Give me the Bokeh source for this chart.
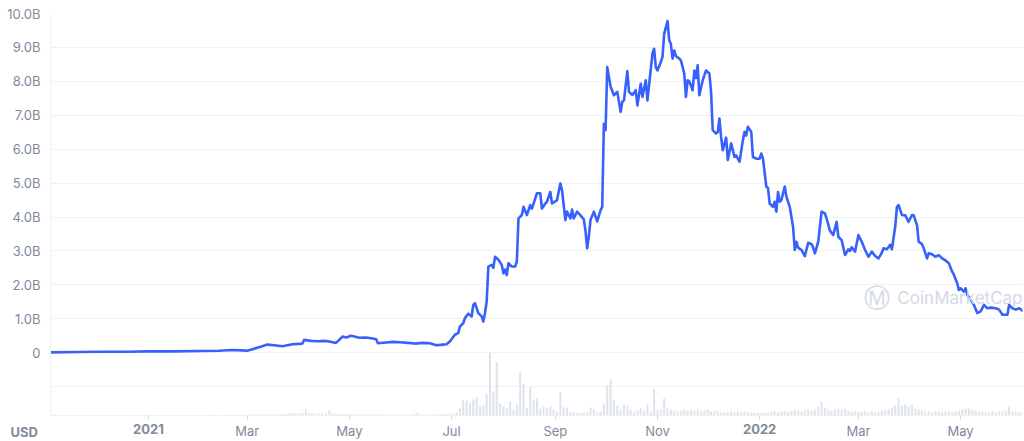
import pandas as pd
from bokeh.plotting import figure
from bokeh.models import Range1d, FixedTicker, Label, ColumnDataSource, LinearAxis, Title
from bokeh.embed import file_html
from bokeh.resources import INLINE

# ---- market cap (billions USD) ----
mcap_2020_h1_2021 = [
    ("2020-11-03", 0.01), ("2020-11-20", 0.02), ("2020-12-03", 0.03), ("2020-12-20", 0.03),
    ("2021-01-01", 0.04), ("2021-01-15", 0.04), ("2021-02-01", 0.05), ("2021-02-12", 0.06),
    ("2021-02-20", 0.08), ("2021-02-26", 0.07), ("2021-03-01", 0.06), ("2021-03-05", 0.12),
    ("2021-03-09", 0.18), ("2021-03-13", 0.24), ("2021-03-17", 0.22), ("2021-03-22", 0.19),
    ("2021-03-25", 0.22), ("2021-03-28", 0.25), ("2021-04-01", 0.26), ("2021-04-03", 0.27),
    ("2021-04-04", 0.38), ("2021-04-08", 0.35), ("2021-04-12", 0.34), ("2021-04-16", 0.35),
    ("2021-04-19", 0.33), ("2021-04-23", 0.29), ("2021-04-27", 0.48), ("2021-04-29", 0.45),
    ("2021-05-02", 0.50), ("2021-05-07", 0.44), ("2021-05-11", 0.45), ("2021-05-15", 0.42),
    ("2021-05-17", 0.40), ("2021-05-18", 0.28), ("2021-05-23", 0.30), ("2021-05-27", 0.32),
    ("2021-05-31", 0.31), ("2021-06-05", 0.29), ("2021-06-09", 0.27), ("2021-06-14", 0.29),
    ("2021-06-18", 0.28), ("2021-06-22", 0.22), ("2021-06-26", 0.24), ("2021-06-28", 0.25),
]
mcap_q3_2021 = [
    ("2021-06-30", 0.33), ("2021-07-03", 0.53), ("2021-07-05", 0.58), ("2021-07-06", 0.77),
    ("2021-07-08", 0.87), ("2021-07-09", 1.02), ("2021-07-11", 1.15), ("2021-07-13", 1.07),
    ("2021-07-14", 1.41), ("2021-07-15", 1.46), ("2021-07-17", 1.17), ("2021-07-19", 1.07),
    ("2021-07-20", 0.92), ("2021-07-21", 1.17), ("2021-07-22", 1.51), ("2021-07-23", 2.54),
    ("2021-07-25", 2.59), ("2021-07-26", 2.50), ("2021-07-27", 2.83), ("2021-07-29", 2.74),
    ("2021-07-31", 2.59), ("2021-08-01", 2.34), ("2021-08-02", 2.45), ("2021-08-03", 2.29),
    ("2021-08-04", 2.64), ("2021-08-06", 2.54), ("2021-08-08", 2.54), ("2021-08-09", 2.69),
    ("2021-08-10", 3.96), ("2021-08-12", 4.06), ("2021-08-13", 4.30), ("2021-08-15", 4.06),
    ("2021-08-17", 4.35), ("2021-08-18", 4.25), ("2021-08-21", 4.70), ("2021-08-23", 4.70),
    ("2021-08-24", 4.25), ("2021-08-26", 4.40), ("2021-08-27", 4.45), ("2021-08-29", 4.74),
    ("2021-08-30", 4.40), ("2021-09-02", 4.50), ("2021-09-04", 4.99), ("2021-09-05", 4.79),
    ("2021-09-07", 3.91), ("2021-09-08", 4.16), ("2021-09-10", 3.96), ("2021-09-11", 4.22),
    ("2021-09-12", 3.96), ("2021-09-14", 4.16), ("2021-09-16", 4.05), ("2021-09-18", 3.93),
    ("2021-09-19", 3.60), ("2021-09-20", 3.08), ("2021-09-21", 3.42), ("2021-09-22", 3.91),
    ("2021-09-24", 4.16), ("2021-09-26", 3.87), ("2021-09-28", 4.20), ("2021-09-29", 4.30),
]
mcap_q4_2021 = [
    ("2021-09-30", 6.75), ("2021-10-01", 6.56), ("2021-10-02", 8.42), ("2021-10-04", 7.84),
    ("2021-10-06", 7.59), ("2021-10-08", 7.69), ("2021-10-10", 7.10), ("2021-10-11", 7.40),
    ("2021-10-12", 7.44), ("2021-10-14", 8.30), ("2021-10-15", 7.69), ("2021-10-17", 7.60),
    ("2021-10-19", 7.74), ("2021-10-20", 7.29), ("2021-10-22", 7.93), ("2021-10-23", 7.54),
    ("2021-10-25", 8.03), ("2021-10-26", 7.44), ("2021-10-29", 8.82), ("2021-10-30", 8.96),
    ("2021-10-31", 8.42), ("2021-11-01", 8.32), ("2021-11-03", 8.57), ("2021-11-04", 8.72),
    ("2021-11-05", 9.40), ("2021-11-07", 9.78), ("2021-11-08", 9.21), ("2021-11-09", 9.10),
    ("2021-11-10", 8.67), ("2021-11-11", 8.91), ("2021-11-12", 8.75), ("2021-11-14", 8.67),
    ("2021-11-15", 8.62), ("2021-11-17", 8.23), ("2021-11-18", 7.54), ("2021-11-19", 8.03),
    ("2021-11-20", 8.00), ("2021-11-22", 7.74), ("2021-11-23", 8.32), ("2021-11-24", 8.10),
    ("2021-11-25", 8.47), ("2021-11-26", 7.59), ("2021-11-28", 8.03), ("2021-11-30", 8.32),
    ("2021-12-02", 8.23), ("2021-12-03", 7.70), ("2021-12-04", 6.56), ("2021-12-06", 6.46),
    ("2021-12-07", 6.50), ("2021-12-08", 6.90), ("2021-12-09", 6.36), ("2021-12-10", 5.97),
    ("2021-12-12", 6.34), ("2021-12-13", 5.68), ("2021-12-15", 6.17), ("2021-12-17", 5.77),
    ("2021-12-18", 5.82), ("2021-12-20", 5.63), ("2021-12-22", 6.26), ("2021-12-23", 6.51),
    ("2021-12-24", 6.40), ("2021-12-25", 6.66), ("2021-12-27", 6.51), ("2021-12-28", 5.77),
    ("2021-12-30", 5.72),
]
mcap_2022 = [
    ("2022-01-01", 5.72), ("2022-01-02", 5.87), ("2022-01-03", 5.72), ("2022-01-05", 4.90),
    ("2022-01-06", 4.85), ("2022-01-07", 4.40), ("2022-01-09", 4.30), ("2022-01-10", 4.45),
    ("2022-01-11", 4.16), ("2022-01-12", 4.74), ("2022-01-13", 4.45), ("2022-01-14", 4.50),
    ("2022-01-16", 4.90), ("2022-01-17", 4.60), ("2022-01-19", 4.30), ("2022-01-21", 3.70),
    ("2022-01-22", 3.03), ("2022-01-23", 3.27), ("2022-01-24", 3.10), ("2022-01-26", 3.03),
    ("2022-01-28", 2.85), ("2022-01-30", 3.24), ("2022-02-01", 3.20), ("2022-02-02", 3.10),
    ("2022-02-03", 2.93), ("2022-02-05", 3.27), ("2022-02-07", 4.16), ("2022-02-09", 4.11),
    ("2022-02-10", 3.95), ("2022-02-12", 3.60), ("2022-02-14", 3.47), ("2022-02-16", 3.86),
    ("2022-02-17", 3.42), ("2022-02-19", 3.32), ("2022-02-21", 2.88), ("2022-02-23", 3.05),
    ("2022-02-24", 3.00), ("2022-02-25", 3.11), ("2022-02-27", 2.98), ("2022-03-01", 3.47),
    ("2022-03-03", 3.27), ("2022-03-05", 3.03), ("2022-03-07", 2.83), ("2022-03-09", 2.98),
    ("2022-03-11", 2.85), ("2022-03-13", 2.78), ("2022-03-15", 2.95), ("2022-03-16", 3.08),
    ("2022-03-18", 3.05), ("2022-03-20", 3.18), ("2022-03-21", 3.05), ("2022-03-23", 3.72),
    ("2022-03-24", 4.30), ("2022-03-25", 4.35), ("2022-03-27", 4.06), ("2022-03-29", 4.05),
    ("2022-03-31", 3.86), ("2022-04-02", 4.06), ("2022-04-03", 4.05), ("2022-04-05", 3.76),
    ("2022-04-06", 3.27), ("2022-04-08", 3.20), ("2022-04-09", 3.08), ("2022-04-11", 2.78),
    ("2022-04-12", 2.93), ("2022-04-14", 2.90), ("2022-04-16", 2.83), ("2022-04-18", 2.88),
    ("2022-04-20", 2.78), ("2022-04-22", 2.72), ("2022-04-24", 2.64), ("2022-04-26", 2.39),
    ("2022-04-27", 2.30), ("2022-04-29", 2.05), ("2022-04-30", 1.85), ("2022-05-01", 1.90),
    ("2022-05-03", 1.80), ("2022-05-04", 1.90), ("2022-05-05", 1.71), ("2022-05-07", 1.56),
    ("2022-05-09", 1.41), ("2022-05-11", 1.17), ("2022-05-13", 1.22), ("2022-05-15", 1.41),
    ("2022-05-17", 1.31), ("2022-05-19", 1.33), ("2022-05-22", 1.31), ("2022-05-24", 1.27),
    ("2022-05-26", 1.12), ("2022-05-29", 1.12), ("2022-05-30", 1.41), ("2022-06-01", 1.31),
    ("2022-06-03", 1.27), ("2022-06-05", 1.31), ("2022-06-07", 1.24),
]

# ---- volume (billions USD), one value every 2 days from each segment start ----
vol_step_days = 2
vol_a_start = "2020-11-04"
vol_a = [
    0.01, 0.02, 0.02, 0.01, 0.02, 0.02, 0.03, 0.02, 0.02, 0.02,
    0.02, 0.03, 0.02, 0.02, 0.02, 0.03, 0.02, 0.02, 0.03, 0.02,
    0.02, 0.03, 0.02, 0.02, 0.03, 0.02, 0.03, 0.02, 0.02, 0.03,
    0.03, 0.02, 0.03, 0.03, 0.02, 0.03, 0.03, 0.02, 0.03, 0.03,
    0.03, 0.02, 0.03, 0.03, 0.03, 0.02, 0.03, 0.03, 0.03, 0.04,
    0.03, 0.03, 0.04, 0.03, 0.03, 0.04, 0.03, 0.04,
    0.03, 0.05, 0.04, 0.06, 0.05, 0.07, 0.06, 0.05, 0.06, 0.05,
    0.06, 0.08, 0.07, 0.10, 0.14, 0.08, 0.10, 0.12, 0.30, 0.12,
    0.10, 0.08, 0.10, 0.09, 0.12, 0.25, 0.12, 0.08, 0.07, 0.08,
    0.06, 0.07, 0.06, 0.05, 0.06, 0.05, 0.06, 0.05, 0.04, 0.05,
    0.06, 0.05, 0.04, 0.05, 0.04, 0.05, 0.04, 0.04, 0.05, 0.04,
    0.05, 0.14, 0.05, 0.04, 0.05, 0.04, 0.04, 0.05, 0.05, 0.06,
    0.07,
]
vol_b_start = "2021-06-30"
vol_b = [
    0.08, 0.10, 0.15, 0.35, 0.75, 0.75, 0.60, 0.80, 0.90, 0.45,
    0.50, 1.10, 3.10, 1.20, 2.65, 0.60, 0.45, 0.35, 0.70, 0.30,
    0.55, 2.15, 1.55, 0.40, 1.40, 0.80, 0.85, 0.35, 0.45, 0.35,
    0.45, 0.30, 0.20, 1.20, 0.40, 0.40, 0.20, 0.15, 0.15, 0.12,
    0.15, 0.20, 0.40, 0.30, 0.15, 0.20, 0.60, 1.50, 1.80, 0.80,
    0.50, 0.30, 0.55, 0.45, 0.30, 0.15, 0.25, 0.35, 0.25, 0.55,
    0.20, 1.30, 0.30, 0.30, 0.85, 0.40, 0.30,
]
vol_c_start = "2021-11-11"
vol_c = [
    0.25, 0.20, 0.25, 0.30, 0.25, 0.30, 0.25, 0.30, 0.20, 0.25,
    0.30, 0.20, 0.25, 0.20, 0.15, 0.15, 0.15, 0.20, 0.15, 0.20,
    0.15, 0.20, 0.15, 0.15, 0.15, 0.12, 0.12, 0.15, 0.15, 0.20,
    0.20, 0.15, 0.20, 0.20, 0.20, 0.25, 0.30, 0.25, 0.20, 0.25,
    0.30, 0.25, 0.30, 0.45, 0.70, 0.40, 0.30, 0.25, 0.30, 0.35,
    0.30, 0.35, 0.25, 0.20, 0.20, 0.20, 0.15, 0.20, 0.15, 0.20,
    0.15, 0.20, 0.25, 0.30, 0.30, 0.40, 0.50, 0.85, 0.50, 0.55,
    0.45, 0.55, 0.35, 0.30, 0.25, 0.20, 0.20, 0.15, 0.20, 0.20,
    0.15, 0.20, 0.20, 0.15, 0.20, 0.25, 0.30, 0.35, 0.35, 0.30,
    0.25, 0.20, 0.20, 0.15, 0.15, 0.20, 0.15, 0.20, 0.20, 0.25,
    0.45, 0.20, 0.20, 0.15, 0.20,
]

# ---- axis ticks ----
x_tick_dates = ["2021-01-01", "2021-03-01", "2021-05-01", "2021-07-01", "2021-09-01",
                "2021-11-01", "2022-01-01", "2022-03-01", "2022-05-01"]
x_tick_labels = ["2021", "Mar", "May", "Jul", "Sep", "Nov", "2022", "Mar", "May"]
y_ticks = [-1, 0, 1, 2, 3, 4, 5, 6, 7, 8, 9, 10]
y_tick_labels = ["", "0", "1.0B", "2.0B", "3.0B", "4.0B", "5.0B", "6.0B", "7.0B", "8.0B", "9.0B", "10.0B"]
currency = "USD"

# ---- build sources ----
mcap = mcap_2020_h1_2021 + mcap_q3_2021 + mcap_q4_2021 + mcap_2022
line_src = ColumnDataSource(dict(
    date=pd.to_datetime([d for d, _ in mcap]),
    value=[v for _, v in mcap],
))

def seg(start, vals):
    return list(pd.date_range(start, periods=len(vals), freq=f"{vol_step_days}D"))

vol_dates = seg(vol_a_start, vol_a) + seg(vol_b_start, vol_b) + seg(vol_c_start, vol_c)
vol_vals = vol_a + vol_b + vol_c
vol_src = ColumnDataSource(dict(date=vol_dates, value=vol_vals))

FONT = "Inter"
TXT = "#808a9d"
GRID = "#eff2f5"

p = figure(
    width=1024, height=441, x_axis_type="datetime",
    x_range=Range1d(pd.Timestamp("2020-11-03 12:00"), pd.Timestamp("2022-06-07")),
    y_range=Range1d(-1.85, 10.0),
    output_backend="svg", toolbar_location=None,
    min_border_top=13, min_border_right=2, min_border_left=50, min_border_bottom=20,
)
p.outline_line_color = None
p.background_fill_color = "white"
p.border_fill_color = "white"

p.extra_y_ranges = {"vol": Range1d(0, 20.0)}

p.vbar(x="date", top="value", bottom=0, width=1.2 * 86400000, source=vol_src,
       y_range_name="vol", fill_color="#dfe3ec", line_color=None)
p.line(x="date", y="value", source=line_src, line_color="#3861fb", line_width=2.6,
       line_join="round", line_cap="round")

# y axis
ya = p.yaxis[0]
ya.ticker = FixedTicker(ticks=y_ticks)
ya.major_label_overrides = {t: l for t, l in zip(y_ticks, y_tick_labels)}
ya.major_tick_line_color = None
ya.major_tick_out = 0
ya.minor_tick_line_color = None
ya.axis_line_color = GRID
ya.major_label_text_font = FONT
ya.major_label_text_font_size = "13px"
ya.major_label_text_color = TXT
ya.major_label_standoff = 10
ya.axis_label = None

p.ygrid.grid_line_color = GRID
p.xgrid.grid_line_color = None

# x axis (months)
x_ms = [int(pd.Timestamp(d).value // 10**6) for d in x_tick_dates]
xa = p.xaxis[0]
xa.ticker = FixedTicker(ticks=x_ms)
xa.major_label_overrides = {t: ("" if l.isdigit() else l) for t, l in zip(x_ms, x_tick_labels)}
xa.major_tick_out = 4
xa.major_tick_in = 0
xa.major_tick_line_color = "#cfd6e4"
xa.minor_tick_line_color = None
xa.axis_line_color = GRID
xa.major_label_text_font = FONT
xa.major_label_text_font_size = "13px"
xa.major_label_text_color = TXT
xa.major_label_standoff = 3
xa.axis_label = None

# second x axis for bold year labels, pulled up into the same row
year_ms = [t for t, l in zip(x_ms, x_tick_labels) if l.isdigit()]
year_ax = LinearAxis(
    ticker=FixedTicker(ticks=year_ms),
    major_label_overrides={t: l for t, l in zip(x_ms, x_tick_labels) if l.isdigit()},
    major_tick_out=0, major_tick_in=0, major_tick_line_color=None,
    minor_tick_line_color=None, axis_line_color=None,
    major_label_text_font=FONT, major_label_text_font_size="13px",
    major_label_text_color=TXT, major_label_text_font_style="bold",
    major_label_standoff=-18,
)
p.add_layout(year_ax, "below")

# currency label
p.add_layout(Title(text=currency, align="left", offset=-40, standoff=-36,
                   vertical_align="top", text_font=FONT, text_font_size="13px",
                   text_font_style="bold", text_color=TXT), "below")

# watermark
wm = "#d3d9e5"
p.add_layout(Label(x=pd.Timestamp("2022-06-07").value // 10**6, y=1.62, text="CoinMarketCap",
                   text_align="right", text_baseline="middle", text_font=FONT,
                   text_font_size="17px", text_font_style="normal", text_color=wm))
p.add_layout(Label(x=pd.Timestamp("2022-03-12").value // 10**6, y=1.62, text="Ⓜ",
                   text_align="center", text_baseline="middle", text_font="DejaVu Sans",
                   text_font_size="26px", text_color=wm))

open("out.html", "w").write(file_html(p, INLINE))
